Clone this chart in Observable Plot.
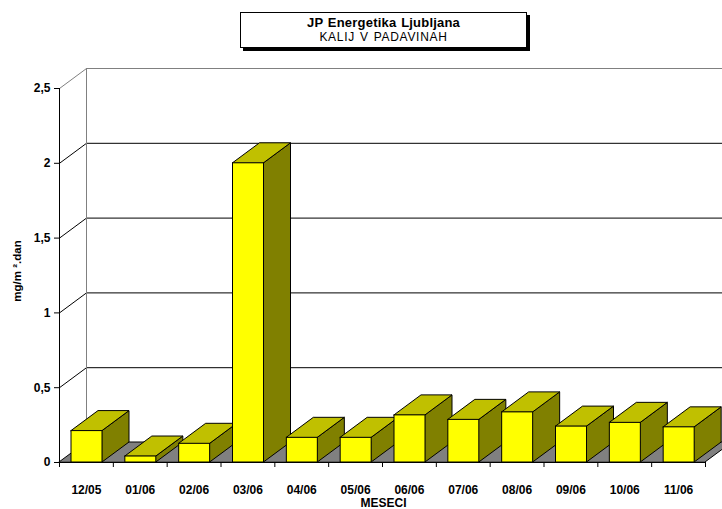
<!DOCTYPE html>
<html>
<head>
<meta charset="utf-8">
<script src="https://cdn.jsdelivr.net/npm/d3@7"></script>
<script src="https://cdn.jsdelivr.net/npm/@observablehq/plot@0.6"></script>
<style>
  html, body { margin: 0; padding: 0; background: #fff; }
  body { width: 722px; height: 509px; overflow: hidden; font-family: "Liberation Sans", Arial, sans-serif; }
  #head { position: relative; height: 60px; }
  #tbox { position: absolute; left: 240px; top: 12px; width: 285px; height: 34px; border: 1px solid #000;
          box-shadow: 3px 3px 0 #000; background: #fff; }
  #t1 { position: absolute; left: 240px; width: 287px; text-align: center; top: 16px; font-weight: bold; font-size: 13px; line-height: 13px; letter-spacing: 0.2px; word-spacing: 1px; white-space: nowrap; }
  #t2 { position: absolute; left: 240px; width: 287px; text-align: center; top: 31px; font-size: 12px; line-height: 12px; letter-spacing: 0.7px; word-spacing: 1px; white-space: nowrap; }
  svg { display: block; }
</style>
</head>
<body>
<div id="head"><div id="tbox"></div><div id="t1">JP Energetika Ljubljana</div><div id="t2">KALIJ V PADAVINAH</div></div>
<div id="chart"></div>
<script>
// ---- data ----
const categories = ["12/05", "01/06", "02/06", "03/06", "04/06", "05/06", "06/06", "07/06", "08/06", "09/06", "10/06", "11/06"];
const values = [0.21, 0.04, 0.125, 2.0, 0.165, 0.165, 0.315, 0.285, 0.335, 0.24, 0.265, 0.235];
const yTicks = [0, 0.5, 1, 1.5, 2, 2.5];
const yTickLabels = ["0", "0,5", "1", "1,5", "2", "2,5"];
const yLabel = "mg/m ².dan";
const xLabel = "MESECI";

// ---- layout ----
const W = 722, H = 449, mL = 59, mR = 0, mT = 28, mB = 47;
const n = categories.length;
const pxX = 646 / n;                       // pixels per category
const xMax = (W - mL - mR) / pxX;
const yMax = 2.5;
const pxY = (H - mT - mB) / yMax;          // pixels per unit
const DX = 27 / pxX, DY = 20 / pxY;        // 3D depth offset in data units
const barOff = 12 / pxX, barW = 31 / pxX;

const bars = categories.map((c, i) => ({c, i, v: values[i], x0: i + barOff, x1: i + barOff + barW}));
const sidePts = bars.flatMap(b => [
  {i: b.i, x: b.x1, y1: 0, y2: b.v},
  {i: b.i, x: b.x1 + DX, y1: DY, y2: b.v + DY}
]);
const topPts = bars.flatMap(b => [
  {i: b.i, y: b.v, x1: b.x0, x2: b.x1},
  {i: b.i, y: b.v + DY, x1: b.x0 + DX, x2: b.x1 + DX}
]);
const floorPts = [
  {y: 0, x1: 0, x2: n},
  {y: DY, x1: DX, x2: n + DX}
];
const gridTicks = yTicks.filter(d => d > 0);
const gridColor = d => d === yMax ? "#808080" : "#000";
const bold = {fontWeight: "bold", fontSize: 12, fill: "#000"};

const chart = Plot.plot({
  width: W, height: H,
  marginLeft: mL, marginRight: mR, marginTop: mT, marginBottom: mB,
  x: {domain: [0, xMax], axis: null},
  y: {domain: [0, yMax], axis: null},
  style: {fontFamily: "'Liberation Sans', Arial, sans-serif", background: "#fff", overflow: "visible"},
  marks: [
    // back wall and left wall
    Plot.ruleY(gridTicks, {y: d => d + DY, x1: DX, x2: xMax, stroke: gridColor, strokeOpacity: 1}),
    Plot.link(gridTicks, {x1: 0, y1: d => d, x2: DX, y2: d => d + DY, stroke: gridColor, strokeOpacity: 1}),
    Plot.ruleX([DX], {y1: DY, y2: yMax + DY, stroke: "#808080", strokeOpacity: 1}),
    // floor
    Plot.areaX(floorPts, {y: "y", x1: "x1", x2: "x2", fill: "#808080", stroke: "#000", strokeWidth: 1}),
    // bars: sides, tops, fronts
    Plot.areaY(sidePts, {x: "x", y1: "y1", y2: "y2", z: "i", fill: "#808000", stroke: "#000", strokeWidth: 1}),
    Plot.areaX(topPts, {y: "y", x1: "x1", x2: "x2", z: "i", fill: "#C0C000", stroke: "#000", strokeWidth: 1}),
    Plot.rect(bars, {x1: "x0", x2: "x1", y1: 0, y2: "v", fill: "#FFFF00", stroke: "#000", strokeWidth: 1}),
    // axes
    Plot.ruleX([0], {y1: 0, y2: yMax, stroke: "#000", strokeOpacity: 1}),
    Plot.ruleY([0], {x1: 0, x2: n, stroke: "#000", strokeOpacity: 1}),
    Plot.ruleY(yTicks, {y: d => d, x1: -5 / pxX, x2: 0, stroke: "#000", strokeOpacity: 1}),
    Plot.text(yTicks, {x: 0, y: d => d, text: (d, i) => yTickLabels[i], dx: -9, textAnchor: "end", ...bold}),
    Plot.ruleX(d3.range(n + 1), {x: d => d, y1: 0, y2: -5 / pxY, stroke: "#000", strokeOpacity: 1}),
    Plot.text(bars, {x: d => d.i + 0.5, y: 0, dy: 28, text: "c", ...bold}),
    Plot.text([xLabel], {x: n / 2, y: 0, dy: 41, dx: 1, text: d => d, letterSpacing: "1.2px", ...bold}),
    Plot.text([yLabel], {x: -42 / pxX, y: 1.28, text: d => d, rotate: -90, fontWeight: "bold", fontSize: 11.5, fill: "#000"})
  ]
});
document.getElementById("chart").appendChild(chart);
</script>
</body>
</html>
